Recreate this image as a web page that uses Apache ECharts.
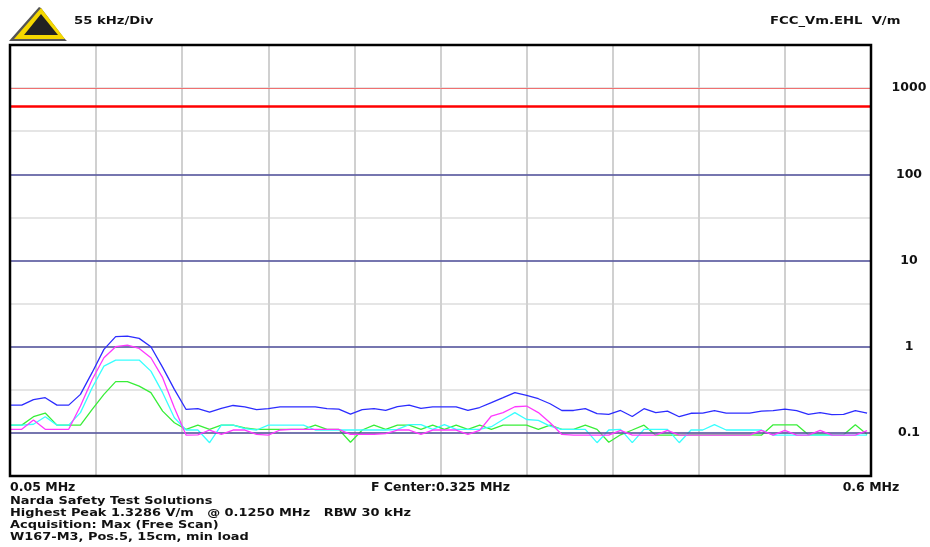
<!DOCTYPE html>
<html><head><meta charset="utf-8">
<style>html,body{margin:0;padding:0;background:#fff}#c{width:930px;height:547px}</style>
<script src="https://cdn.jsdelivr.net/npm/echarts@6/dist/echarts.min.js"></script>
</head><body><div id="c"></div>
<script>
const startFreq = 0.05, stepFreq = 0.0075;
const blueTrace = [.21,.21,.243,.256,.21,.21,.28,.503,.93,1.31,1.3286,1.25,1.0,.575,.32,.187,.191,.174,.192,.208,.2,.186,.191,.2,.2,.2,.2,.191,.189,.165,.186,.191,.182,.202,.21,.192,.2,.2,.2,.182,.197,.224,.256,.293,.272,.249,.218,.182,.182,.191,.167,.164,.182,.155,.191,.172,.179,.154,.169,.17,.181,.17,.17,.17,.179,.181,.189,.181,.164,.172,.163,.164,.181,.17];
const magentaTrace = [.11,.11,.141,.11,.11,.11,.205,.417,.745,1.0,1.044,.955,.745,.437,.196,.094,.095,.108,.096,.108,.108,.096,.094,.108,.11,.11,.11,.11,.11,.096,.096,.096,.098,.108,.108,.096,.108,.108,.108,.096,.107,.157,.172,.201,.205,.172,.131,.096,.094,.094,.094,.094,.107,.094,.094,.094,.107,.094,.094,.094,.094,.094,.094,.094,.107,.094,.107,.094,.094,.107,.094,.094,.094,.106];
const cyanTrace = [.123,.123,.126,.154,.123,.123,.172,.334,.596,.70,.70,.70,.521,.293,.15,.108,.108,.077,.123,.123,.112,.108,.123,.123,.123,.123,.108,.108,.108,.108,.108,.108,.108,.11,.125,.125,.11,.125,.11,.11,.11,.118,.143,.172,.143,.14,.12,.11,.11,.11,.077,.108,.11,.077,.11,.11,.11,.077,.108,.108,.125,.108,.108,.108,.108,.094,.094,.094,.094,.094,.094,.094,.094,.094];
const greenTrace = [.123,.123,.154,.17,.123,.123,.123,.187,.28,.393,.393,.349,.293,.179,.131,.11,.123,.11,.123,.123,.114,.11,.11,.11,.11,.11,.123,.11,.11,.078,.108,.123,.11,.123,.123,.11,.123,.11,.123,.11,.123,.11,.123,.123,.123,.11,.123,.11,.11,.123,.11,.078,.095,.108,.123,.094,.094,.094,.095,.095,.095,.095,.095,.095,.094,.124,.124,.124,.095,.095,.095,.095,.124,.096];
const freqTicks = [0.05,0.105,0.16,0.215,0.27,0.325,0.38,0.435,0.49,0.545,0.6];
const freqLabels = {0.05:'0.05 MHz',0.325:'F Center:0.325 MHz',0.6:'0.6 MHz'};
const yTickLabels = ['0.1','1','10','100','1000'];
const navyLevels = [100,10,1,0.1];
const topLevel = 1000;
const limitLevel = 614;
const headerLeft = '55 kHz/Div';
const headerRight = 'FCC_Vm.EHL  V/m';
const footerLines = ['Narda Safety Test Solutions','Highest Peak 1.3286 V/m   @ 0.1250 MHz   RBW 30 kHz','Acquisition: Max (Free Scan)','W167-M3, Pos.5, 15cm, min load'];

const font = 'DejaVu Sans';
const pts = a => a.map((v,i)=>[+(startFreq+i*stepFreq).toFixed(4),v]);
const trace = (name,color,data,z)=>({name,type:'line',data:pts(data),showSymbol:false,symbol:'none',z,
  lineStyle:{color,width:1.3},itemStyle:{color},silent:true});
const txt = (x,y,text,sx)=>({type:'text',x,y,scaleX:sx,scaleY:1,silent:true,z:200,
  style:{text,fill:'#111',font:'bold 11px "'+font+'"',textAlign:'left',textVerticalAlign:'middle'}});
const chart = echarts.init(document.getElementById('c'),null,{renderer:'canvas'});
chart.setOption({
  animation:false,
  backgroundColor:'#fff',
  grid:{left:10,right:59,top:45,bottom:71,show:false},
  xAxis:{type:'value',min:0.05,max:0.6,
    axisLine:{show:false},
    axisTick:{show:false,customValues:freqTicks},
    splitLine:{show:true,lineStyle:{color:'#d0d0d0',width:2}},
    axisLabel:{show:true,customValues:[0.05,0.325,0.6],margin:5,alignMinLabel:'left',color:'#111',
      fontFamily:font,fontWeight:'bold',fontSize:12.5,
      formatter:v=>freqLabels[+v.toFixed(3)]||''}},
  yAxis:{type:'log',logBase:10,min:Math.pow(10,-1.5),max:Math.pow(10,3.5),interval:0.5,position:'right',
    axisLine:{show:false},axisTick:{show:false},
    splitLine:{show:true,lineStyle:{color:'#dcdcdc',width:1.5}},
    axisLabel:{show:true,margin:38,align:'center',color:'#111',fontFamily:font,fontWeight:'bold',fontSize:12.5,
      showMinLabel:false,showMaxLabel:false,
      formatter:v=>{const e=Math.log10(v);if(Math.abs(e-Math.round(e))>1e-6)return '';return yTickLabels[Math.round(e)+1]||'';}}},
  series:[
    {name:'levels',type:'line',data:[],z:2,silent:true,symbol:'none',
      markLine:{silent:true,symbol:'none',label:{show:false},animation:false,
        data:[
          ...navyLevels.map(v=>({yAxis:v,lineStyle:{color:'#50509c',width:1.5,type:'solid'}})),
          {yAxis:topLevel,lineStyle:{color:'#f07070',width:1,type:'solid'}},
          {yAxis:limitLevel,lineStyle:{color:'#ff0000',width:2.5,type:'solid'}}
        ]}},
    trace('green','#38ee38',greenTrace,3),
    trace('cyan','#38ffff',cyanTrace,4),
    trace('blue','#2c2cff',blueTrace,5),
    trace('magenta','#ff38ff',magentaTrace,6)
  ],
  graphic:[
    {type:'rect',silent:true,z:150,shape:{x:10,y:45,width:861,height:431},style:{fill:'none',stroke:'#000',lineWidth:2.5}},
    {type:'polygon',silent:true,z:150,shape:{points:[[39,7],[9,41],[67,41],[64,38],[41,8]]},style:{fill:'#555'}},
    {type:'polygon',silent:true,z:151,shape:{points:[[41,8],[14,39],[65,39]]},style:{fill:'#f5d800'}},
    {type:'polygon',silent:true,z:152,shape:{points:[[41,14],[24,35],[58,35]]},style:{fill:'#222'}},
    txt(74,21,headerLeft,1.2),
    txt(770,21,headerRight,1.2),
    ...footerLines.map((t,i)=>txt(10,501+i*12,t,1.176))
  ]
});
</script></body></html>
